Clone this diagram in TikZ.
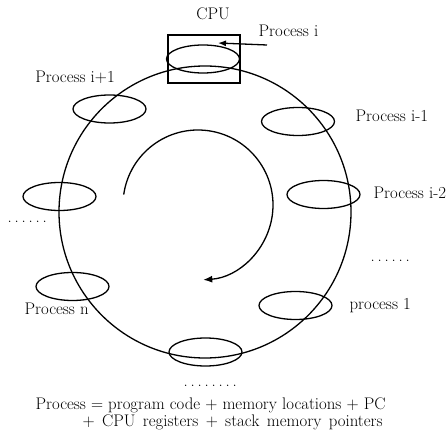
\documentclass[tikz,border=0pt]{standalone}
\usetikzlibrary{shapes.geometric,arrows.meta}
\newcommand\mydot{.\kern.1666em}
\begin{document}
\begin{tikzpicture}[x=1pt,y=-1pt,
  line width=1.3pt,
  proc/.style={draw,ellipse,minimum width=73pt,minimum height=28pt,inner sep=0pt},
  lbl/.style={font=\fontsize{16.8}{20}\selectfont,inner sep=0pt}]
\useasboundingbox (0,0) rectangle (448,430);
% ring
\node[draw,circle,minimum size=292pt,inner sep=0pt] (ring) at (205,212) {};
% CPU box
\node[draw,minimum width=72pt,minimum height=48pt,inner sep=0pt] (cpu) at (204,59) {};
\node[lbl,anchor=base] (cpulbl) at (213,20) {CPU};
% processes
\node[proc] (pi)  at (203,59) {};
\node[proc] (pip) at (109.5,109) {};
\node[proc] (pl)  at (59.5,196.5) {};
\node[proc] (pn)  at (72.5,286.5) {};
\node[proc] (pb)  at (205.5,352) {};
\node[proc] (p1)  at (295.5,305.5) {};
\node[proc] (pm2) at (323.5,194.5) {};
\node[proc] (pm1) at (298,121.5) {};
% labels
\node[lbl,anchor=base west] (lpi) at (258,37) {Process i};
\node[lbl,anchor=base] (lpip) at (75,83) {Process i+1};
\node[lbl,anchor=base west] (lpm1) at (355,122) {Process i-1};
\node[lbl,anchor=base west] (lpm2) at (373,199) {Process i-2};
\node[lbl,anchor=base west] (lpn) at (24,315) {Process n};
\node[lbl,anchor=base west] (lp1) at (349,310) {process 1};
\node[lbl,anchor=base west] (dl) at (7,223) {\mydot\mydot\mydot\mydot\mydot.};
\node[lbl,anchor=base west] (dr) at (370,262) {\mydot\mydot\mydot\mydot\mydot.};
\node[lbl,anchor=base west] (db) at (183,387) {\mydot\mydot\mydot\mydot\mydot\mydot\mydot.};
\node[lbl,anchor=base west] (f1) at (35,410) {Process = program code + memory locations + PC};
\node[lbl,anchor=base west] (f2) at (82,427) {\makebox[300pt][s]{+ CPU registers + stack memory pointers}};
% arrow to Process i
\coordinate (as) at (267,45);
\coordinate (ae) at (218,43);
\draw[-{Latex[length=8pt,width=6pt]}] (as) -- (ae);
% rotation arrow
\coordinate (rc) at (198,205);
\draw[-{Latex[length=9pt,width=7pt]}] ([shift={(-172:75)}]rc) arc[start angle=-172,end angle=86,radius=75];
\end{tikzpicture}
\end{document}
